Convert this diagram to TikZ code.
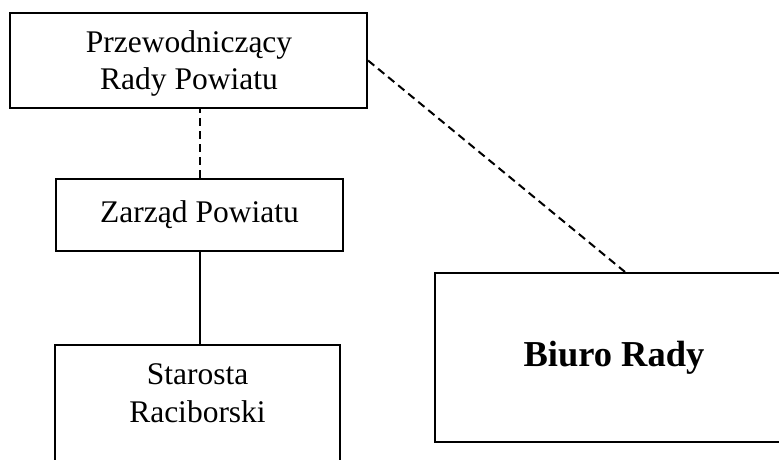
\documentclass[tikz,border=0pt]{standalone}
\usepackage{fontspec}
\setmainfont{Liberation Serif}
\begin{document}
\begin{tikzpicture}[x=1pt,y=-1pt,
  box/.style={draw, line width=2.1pt, rectangle, inner sep=0pt, align=center},
  lbl/.style={font=\fontsize{31.5}{37.5}\selectfont, align=center, inner sep=0pt},
  dashline/.style={line width=2pt, dash pattern=on 8pt off 5pt},
  solidline/.style={line width=2pt}]
\useasboundingbox[fill=white] (0,0) rectangle (779,460);
\clip (0,0) rectangle (779,460);
\node[box, minimum width=357pt, minimum height=95pt] (b1) at (188.5,60.5) {};
\node[lbl] (t1) at (189,63.5) {Przewodniczący\\Rady Powiatu};
\node[box, minimum width=287pt, minimum height=72pt, lbl] (b2) at (199.5,215) {Zarząd Powiatu};
\node[box, minimum width=285pt, minimum height=140pt] (b3) at (197.5,415) {};
\node[lbl] (t3) at (197.5,393) {Starosta\\Raciborski};
\node[box, minimum width=358pt, minimum height=169pt, font=\fontsize{36.5}{42}\selectfont\bfseries] (b4) at (614,357.5) {Biuro Rady};
\draw[dashline] (b2.north) -- (b2.north |- b1.south);
\draw[solidline] (b2.south) -- (b2.south |- b3.north);
\draw[dashline] (b1.east) -- ([xshift=11pt]b4.north);
\end{tikzpicture}
\end{document}
